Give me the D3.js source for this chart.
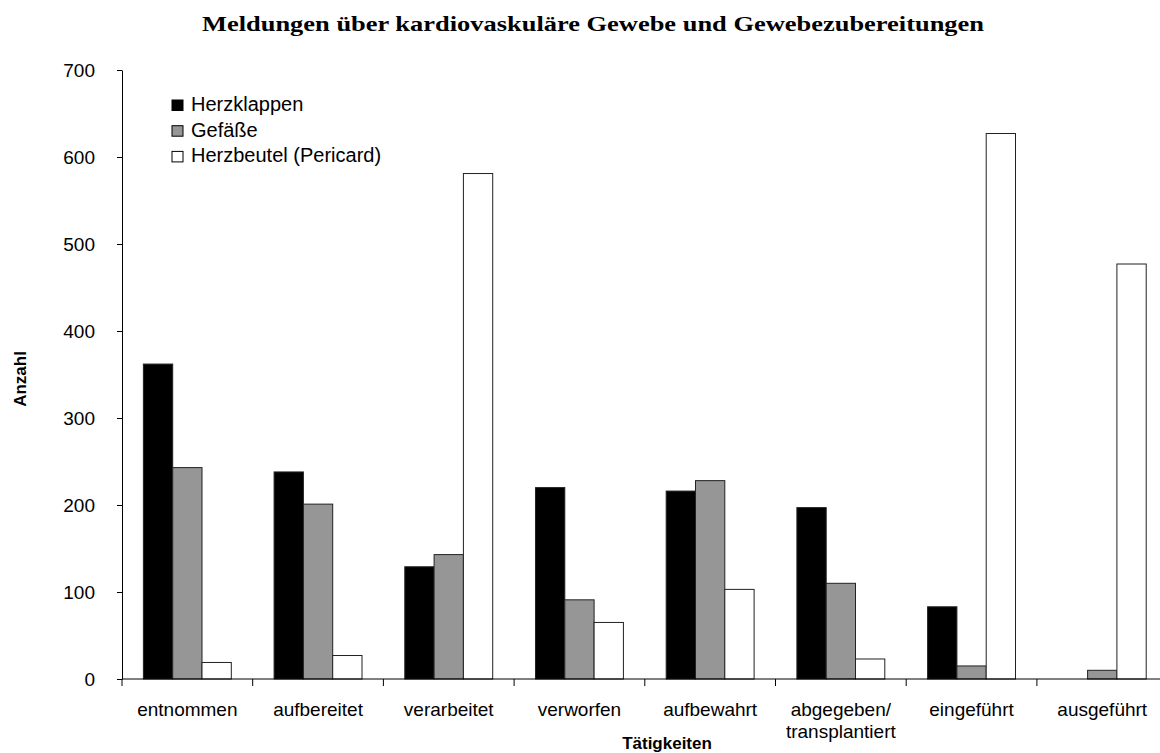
<!DOCTYPE html>
<html>
  <head>
    <meta charset="utf-8">
    <title>Kardiovaskuläre Gewebe</title>
    <script src="https://d3js.org/d3.v7.min.js"></script>
    <style>
      body { margin: 0; background: #fff; }
      text { font-family: "Liberation Sans", Arial, sans-serif; fill: #000; }
      .title { font-family: "Liberation Serif", "Times New Roman", serif; font-weight: bold; font-size: 22px; }
      .axis text { font-size: 19px; }
      .axis path, .axis line { stroke: #000; }
      .lbl { font-size: 20px; }
      .bold { font-weight: bold; font-size: 17px; }
    </style>
  </head>
  <body>
    <svg id="chart" width="1160" height="753"></svg>
    <script>
      // data
      var categories = ["entnommen", "aufbereitet", "verarbeitet", "verworfen", "aufbewahrt", "abgegeben/\ntransplantiert", "eingeführt", "ausgeführt"];
      var seriesNames = ["Herzklappen", "Gefäße", "Herzbeutel (Pericard)"];
      var herzklappen = [362, 238, 129, 220, 216, 197, 83, 0];
      var gefaesse = [243, 201, 143, 91, 228, 110, 15, 10];
      var herzbeutel = [19, 27, 581, 65, 103, 23, 627, 477];
      var yTicks = [0, 100, 200, 300, 400, 500, 600, 700];
      var colors = ["#000000", "#969696", "#ffffff"];

      var values = [herzklappen, gefaesse, herzbeutel];
      var rows = categories.map(function(c, i) {
        return { cat: c, vals: values.map(function(v, j) { return { s: j, v: v[i] }; }) };
      });

      var svg = d3.select("#chart");
      var margin = { left: 122, top: 70, bottom: 679 };

      var x0 = d3.scaleBand()
        .domain(categories)
        .range([margin.left, margin.left + 8 * 130.7])
        .padding(0);
      var x1 = d3.scaleBand()
        .domain([0, 1, 2])
        .range([0, x0.bandwidth()])
        .paddingInner(0)
        .paddingOuter(0.73);
      var y = d3.scaleLinear()
        .domain([0, 700])
        .range([margin.bottom, margin.top]);

      // title (stretched a bit wider like the original export)
      svg.append("text")
        .attr("class", "title")
        .attr("x", 593)
        .attr("y", 31)
        .attr("text-anchor", "middle")
        .attr("textLength", 782)
        .attr("lengthAdjust", "spacingAndGlyphs")
        .text("Meldungen über kardiovaskuläre Gewebe und Gewebezubereitungen");

      // bars
      var groups = svg.append("g").selectAll("g")
        .data(rows)
        .enter().append("g")
          .attr("transform", function(d) { return "translate(" + x0(d.cat) + ",0)"; });
      groups.selectAll("rect")
        .data(function(d) { return d.vals.filter(function(e) { return e.v > 0; }); })
        .enter().append("rect")
          .attr("x", function(d) { return x1(d.s); })
          .attr("width", x1.bandwidth())
          .attr("y", function(d) { return y(d.v); })
          .attr("height", function(d) { return y(0) - y(d.v); })
          .attr("fill", function(d) { return colors[d.s]; })
          .attr("stroke", "#222")
          .attr("stroke-width", 1);

      // y axis
      var yAxis = d3.axisLeft(y)
        .tickValues(yTicks)
        .tickSize(5)
        .tickSizeOuter(0)
        .tickPadding(22);
      svg.append("g")
        .attr("class", "axis")
        .attr("transform", "translate(" + margin.left + ",0)")
        .call(yAxis);

      // x axis
      var xAxisG = svg.append("g")
        .attr("class", "axis")
        .attr("transform", "translate(0," + margin.bottom + ")");
      xAxisG.append("line")
        .attr("x1", margin.left).attr("x2", 1160)
        .attr("stroke", "#000");
      xAxisG.selectAll(".tk")
        .data(categories)
        .enter().append("line")
          .attr("class", "tk")
          .attr("x1", function(d) { return x0(d); })
          .attr("x2", function(d) { return x0(d); })
          .attr("y2", 7)
          .attr("stroke", "#000");
      xAxisG.selectAll(".lbl")
        .data(categories)
        .enter().append("text")
          .attr("class", "lbl")
          .attr("text-anchor", "middle")
          .attr("x", function(d) { return x0(d) + x0.bandwidth() / 2; })
          .attr("y", 37)
          .each(function(d) {
            var parts = d.split("\n");
            var t = d3.select(this);
            parts.forEach(function(p, i) {
              t.append("tspan")
                .attr("x", x0(d) + x0.bandwidth() / 2)
                .attr("dy", i === 0 ? 0 : 22)
                .text(p);
            });
          });

      // axis titles
      svg.append("text")
        .attr("class", "bold")
        .attr("x", 667)
        .attr("y", 749)
        .attr("text-anchor", "middle")
        .text("Tätigkeiten");
      svg.append("text")
        .attr("class", "bold")
        .attr("transform", "translate(26,379) rotate(-90)")
        .attr("text-anchor", "middle")
        .text("Anzahl");

      // legend
      var legend = svg.append("g").selectAll("g")
        .data(seriesNames)
        .enter().append("g")
          .attr("transform", function(d, i) { return "translate(172," + (100 + i * 25.7) + ")"; });
      legend.append("rect")
        .attr("width", 11)
        .attr("height", 10.5)
        .attr("fill", function(d, i) { return colors[i]; })
        .attr("stroke", "#000");
      legend.append("text")
        .attr("x", 19)
        .attr("y", 11)
        .style("font-size", "20px")
        .text(function(d) { return d; });
    </script>
  </body>
</html>
